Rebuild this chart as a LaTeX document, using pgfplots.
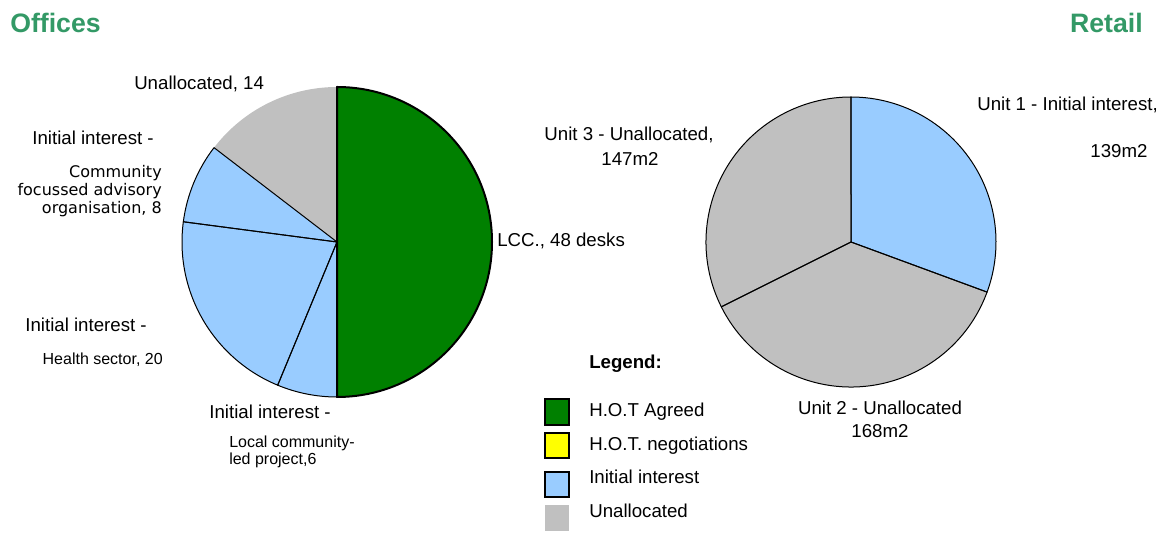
\documentclass[border=0pt]{standalone}
\usepackage{pgfplots}
\pgfplotsset{compat=1.18}
\usepackage{pgfplotstable}
\usepackage{fontspec}
\setmainfont{Liberation Sans}
\newfontfamily\verd{DejaVu Sans}
\definecolor{hotgreen}{RGB}{0,128,0}
\definecolor{hotyellow}{RGB}{255,255,0}
\definecolor{initblue}{RGB}{153,204,255}
\definecolor{unalgray}{RGB}{192,192,192}
\definecolor{titlegreen}{RGB}{51,153,102}

\pgfplotstableread{
label value style
LCC 48 hot
Local 6 init
Health 20 init
Community 8 init
Unallocated 14 unalnb
}\officesdata

\pgfplotstableread{
label value style
Unit1 139 init
Unit2 168 unal
Unit3 147 unal
}\retaildata

\tikzset{
  pfhot/.style={fill=hotgreen, draw=none},
  pdhot/.style={draw=black, line width=1.5pt, line join=round},
  pfinit/.style={fill=initblue, draw=none},
  pdinit/.style={draw=black, line width=0.75pt, line join=round},
  pfunal/.style={fill=unalgray, draw=none},
  pdunal/.style={draw=black, line width=0.75pt, line join=round},
  pfunalnb/.style={fill=unalgray, draw=none},
  pdunalnb/.style={draw=none},
}

% #1 table, #2 cx, #3 cy, #4 radius, #5 pass prefix (pf or pd)
\newcommand{\piepass}[5]{%
  \pgfplotstablegetrowsof{#1}%
  \pgfmathtruncatemacro{\pienrows}{\pgfplotsretval-1}%
  \def\pietotal{0}%
  \pgfplotsforeachungrouped \i in {0,...,\pienrows}{%
    \pgfplotstablegetelem{\i}{value}\of{#1}%
    \pgfmathsetmacro{\pietotal}{\pietotal+\pgfplotsretval}}%
  \def\pieangle{90}%
  \pgfplotsforeachungrouped \i in {0,...,\pienrows}{%
    \pgfplotstablegetelem{\i}{value}\of{#1}%
    \pgfmathsetmacro{\pieend}{\pieangle-\pgfplotsretval/\pietotal*360}%
    \pgfplotstablegetelem{\i}{style}\of{#1}%
    \edef\piecmd{\noexpand\path[#5\pgfplotsretval] (axis cs:#2,#3) -- ++(\pieangle:#4) arc[start angle=\pieangle, end angle=\pieend, radius=#4] -- cycle;}%
    \piecmd
    \global\let\pieangle\pieend}%
}

\begin{document}
\begin{tikzpicture}
\begin{axis}[
  x=0.75pt, y=0.75pt,
  xmin=0, xmax=1175, ymin=0, ymax=553,
  hide axis, clip=false,
]
\coordinate (BL) at (axis cs:0,0);
\coordinate (TR) at (axis cs:1175,553);

% Offices pie (center 337,242 px; radius 155 px)
\piepass{\officesdata}{337}{311}{116.25pt}{pf}
\piepass{\officesdata}{337}{311}{116.25pt}{pd}
% Retail pie (center 851,242 px; radius 145 px)
\piepass{\retaildata}{851}{311}{108.75pt}{pf}
\piepass{\retaildata}{851}{311}{108.75pt}{pd}

% titles
\node[anchor=base west, inner sep=0, font=\fontsize{20}{24}\selectfont\bfseries, text=titlegreen] at (axis cs:10,520) {Offices};
\node[anchor=base east, inner sep=0, font=\fontsize{20}{24}\selectfont\bfseries, text=titlegreen] at (axis cs:1143,520) {Retail};

% Offices labels
\node[anchor=base west, inner sep=0, font=\fontsize{14}{17}\selectfont] at (axis cs:134,463) {Unallocated, 14};
\node[anchor=base east, inner sep=0, font=\fontsize{14}{17}\selectfont] at (axis cs:154,408) {Initial interest -};
\node[anchor=base east, inner sep=0, font=\verd\fontsize{12}{13.5}\selectfont, align=right] at (axis cs:162,375) {Community};
\node[anchor=base east, inner sep=0, font=\verd\fontsize{12}{13.5}\selectfont] at (axis cs:162,357) {focussed advisory};
\node[anchor=base east, inner sep=0, font=\verd\fontsize{12}{13.5}\selectfont] at (axis cs:162,339) {organisation, 8};
\node[anchor=base west, inner sep=0, font=\fontsize{14}{17}\selectfont] at (axis cs:497,306) {LCC., 48 desks};
\node[anchor=base east, inner sep=0, font=\fontsize{14}{17}\selectfont] at (axis cs:147,221) {Initial interest -};
\node[anchor=base east, inner sep=0, font=\fontsize{12}{14}\selectfont] at (axis cs:163,188) {Health sector, 20};
\node[anchor=base east, inner sep=0, font=\fontsize{14}{17}\selectfont] at (axis cs:331,134) {Initial interest -};
\node[anchor=base west, inner sep=0, font=\fontsize{12}{14}\selectfont] at (axis cs:229,105) {Local community-};
\node[anchor=base west, inner sep=0, font=\fontsize{12}{14}\selectfont] at (axis cs:229,88) {led project,6};

% Retail labels
\node[anchor=base, inner sep=0, font=\fontsize{14}{17}\selectfont] at (axis cs:629,412) {Unit 3 - Unallocated,};
\node[anchor=base, inner sep=0, font=\fontsize{14}{17}\selectfont] at (axis cs:630,387) {147m2};
\node[anchor=base west, inner sep=0, font=\fontsize{14}{17}\selectfont] at (axis cs:977,442) {Unit 1 - Initial interest,};
\node[anchor=base, inner sep=0, font=\fontsize{14}{17}\selectfont] at (axis cs:1119,395) {139m2};
\node[anchor=base, inner sep=0, font=\fontsize{14}{17}\selectfont] at (axis cs:880,138) {Unit 2 - Unallocated};
\node[anchor=base, inner sep=0, font=\fontsize{14}{17}\selectfont] at (axis cs:880,115) {168m2};

% Legend
\node[anchor=base west, inner sep=0, font=\fontsize{14}{17}\selectfont\bfseries] at (axis cs:589,184) {Legend:};
\path[fill=hotgreen, draw=black, line width=1.2pt] (axis cs:545,154) rectangle (axis cs:569,128);
\path[fill=hotyellow, draw=black, line width=1.2pt] (axis cs:545,120) rectangle (axis cs:569,95);
\path[fill=initblue, draw=black, line width=1.2pt] (axis cs:545,81) rectangle (axis cs:569,56);
\path[fill=unalgray] (axis cs:545,48) rectangle (axis cs:569,22);
\node[anchor=base west, inner sep=0, font=\fontsize{14}{17}\selectfont] at (axis cs:589,136) {H.O.T Agreed};
\node[anchor=base west, inner sep=0, font=\fontsize{14}{17}\selectfont] at (axis cs:589,102) {H.O.T. negotiations};
\node[anchor=base west, inner sep=0, font=\fontsize{14}{17}\selectfont] at (axis cs:589,69) {Initial interest};
\node[anchor=base west, inner sep=0, font=\fontsize{14}{17}\selectfont] at (axis cs:589,35) {Unallocated};
\end{axis}
\pgfresetboundingbox
\path (BL) rectangle (TR);
\end{tikzpicture}
\end{document}
